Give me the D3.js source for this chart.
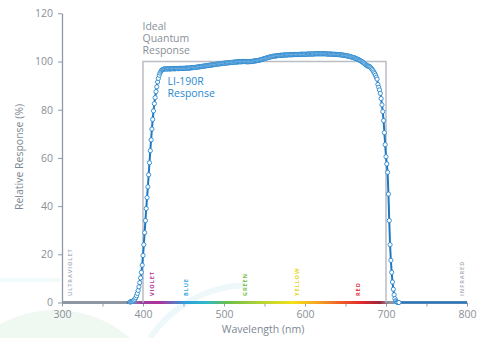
<!DOCTYPE html>
<html><head><meta charset="utf-8">
<script src="https://cdn.jsdelivr.net/npm/d3@7"></script>
<style>body{margin:0;background:#fff}svg{display:block;font-family:"Open Sans",sans-serif}</style>
</head><body><svg id="c" width="481" height="338"></svg>
<script>
// ---- data ----
const wlStart = 380;
const responseValues = [
 0, 0, 0.1, 0.1, 0.2, 0.3, 0.4, 0.5, 0.7, 1.0,
 1.4, 2.0, 2.8, 3.8, 5.0, 6.5, 8.2, 10.2, 12.5, 15.5,
 19.5, 24, 29, 34, 39, 43.5, 48, 53, 58, 63,
 67.5, 72, 76, 79.5, 82.5, 85, 87.5, 89.5, 91.5, 93,
 94.3, 95.2, 95.9, 96.3, 96.6, 96.8, 96.9, 96.9, 97.0, 96.9,
 96.9, 97.0, 97.0, 96.9, 96.9, 97.0, 97.1, 97.0, 97.0, 97.0,
 97.0, 97.1, 97.1, 97.0, 97.1, 97.1, 97.2, 97.1, 97.1, 97.2,
 97.1, 97.2, 97.2, 97.2, 97.3, 97.3, 97.2, 97.3, 97.3, 97.4,
 97.4, 97.4, 97.5, 97.5, 97.5, 97.6, 97.6, 97.7, 97.7, 97.8,
 97.8, 97.9, 97.9, 98.0, 98.0, 98.1, 98.1, 98.2, 98.2, 98.3,
 98.3, 98.4, 98.4, 98.5, 98.5, 98.6, 98.6, 98.7, 98.7, 98.8,
 98.8, 98.9, 98.9, 99.0, 99.0, 99.1, 99.1, 99.1, 99.2, 99.2,
 99.3, 99.3, 99.3, 99.4, 99.4, 99.5, 99.5, 99.5, 99.6, 99.6,
 99.6, 99.7, 99.7, 99.7, 99.8, 99.8, 99.8, 99.8, 99.9, 99.9,
 99.9, 99.9, 99.9, 100.0, 100.0, 100.0, 100.0, 99.9, 99.9, 99.9,
 99.9, 99.9, 100.0, 100.0, 100.0, 100.1, 100.1, 100.2, 100.2, 100.3,
 100.3, 100.4, 100.4, 100.5, 100.6, 100.7, 100.8, 100.9, 101.0, 101.1,
 101.2, 101.3, 101.4, 101.5, 101.6, 101.7, 101.8, 101.9, 102.0, 102.0,
 102.1, 102.2, 102.2, 102.3, 102.3, 102.4, 102.4, 102.5, 102.5, 102.5,
 102.6, 102.6, 102.6, 102.6, 102.7, 102.7, 102.7, 102.7, 102.7, 102.8,
 102.8, 102.8, 102.8, 102.8, 102.8, 102.8, 102.9, 102.9, 102.9, 102.9,
 102.9, 102.9, 102.9, 102.9, 103.0, 103.0, 103.0, 103.0, 103.0, 103.0,
 103.0, 103.0, 103.0, 103.1, 103.1, 103.1, 103.1, 103.1, 103.1, 103.1,
 103.1, 103.1, 103.2, 103.2, 103.2, 103.2, 103.2, 103.2, 103.2, 103.2,
 103.2, 103.2, 103.2, 103.2, 103.2, 103.2, 103.2, 103.1, 103.1, 103.1,
 103.1, 103.1, 103.1, 103.0, 103.0, 103.0, 103.0, 103.0, 102.9, 102.9,
 102.9, 102.9, 102.8, 102.8, 102.8, 102.7, 102.7, 102.6, 102.6, 102.5,
 102.5, 102.4, 102.3, 102.3, 102.2, 102.1, 102.0, 101.9, 101.8, 101.7,
 101.6, 101.5, 101.4, 101.2, 101.1, 100.9, 100.8, 100.6, 100.4, 100.2,
 100.0, 99.8, 99.5, 99.3, 99.0, 98.7, 98.4, 98.2, 98.1, 98.0,
 97.8, 97.5, 97.1, 96.7, 96.2, 95.6, 95.0, 94.3, 93.5, 92.7,
 90.5, 89.3, 88.2, 86.8, 84.6, 82.0, 79.2, 75.5, 70.5, 65.5,
 60.5, 57.5, 54, 45, 34, 24, 17.5, 12.5, 8.5, 5.5,
 3.2, 1.6, 0.7, 0.3, 0.1, 0, 0
];
const tailWavelength = 800, tailValue = 0;
const idealWavelengths = [400, 400, 700, 700];
const idealValues = [0, 100, 100, 0];
const yTicks = [0, 20, 40, 60, 80, 100, 120];
const xTicks = [300, 350, 400, 450, 500, 550, 600, 650, 700, 750, 800];
const xLabels = [300, 400, 500, 600, 700, 800];
const bandNames = ["ULTRAVIOLET", "VIOLET", "BLUE", "GREEN", "YELLOW", "RED", "INFRARED"];
const bandWavelengths = [310, 412, 454, 526, 591, 666, 794];
const bandColors = ["#aeb4bd", "#b2309a", "#2aa7df", "#76bf45", "#e8d41c", "#e0303a", "#aeb4bd"];
const idealLines = ["Ideal", "Quantum", "Response"];
const sensorLines = ["LI-190R", "Response"];

// ---- chart ----
const svg = d3.select("#c");
const x = d3.scaleLinear().domain([300, 800]).range([62, 467]);
const y = d3.scaleLinear().domain([0, 120]).range([302.5, 13.3]);

const data = responseValues.map((v, i) => ({wl: wlStart + i, v}));
const lineData = data.concat([{wl: tailWavelength, v: tailValue}]);

// faint watermark shapes
svg.append("circle").attr("cx", 55).attr("cy", 425).attr("r", 115).attr("fill", "#f0f8f2");
svg.append("path").attr("d", "M150,338 A120,120 0 0 1 245,285").attr("fill", "none").attr("stroke", "#eef8fa").attr("stroke-width", 6);
svg.append("rect").attr("x", 0).attr("y", 278).attr("width", 60).attr("height", 4).attr("fill", "#f0fafa");

// gradient
const defs = svg.append("defs");
const grad = defs.append("linearGradient").attr("id", "spec").attr("gradientUnits", "userSpaceOnUse")
  .attr("x1", x(300)).attr("x2", x(800)).attr("y1", 0).attr("y2", 0);
const stops = [[300,"#8e96a4"],[386,"#8e96a4"],[398,"#9b3f9c"],[420,"#b2319a"],[452,"#2b9fd9"],[478,"#2fb8c8"],[505,"#6cbf4a"],[545,"#b4d235"],[585,"#f4e11c"],[615,"#f5a623"],[645,"#ee5a2a"],[670,"#e02a2e"],[692,"#a0263a"],[704,"#8e96a4"],[800,"#8e96a4"]];
stops.forEach(s => grad.append("stop").attr("offset", (s[0]-300)/500).attr("stop-color", s[1]));

// y axis
const ya = svg.append("g").attr("transform", `translate(${x(300)},0)`)
  .call(d3.axisLeft(y).tickValues(yTicks).tickSize(4).tickSizeOuter(0).tickPadding(5));
ya.select(".domain").attr("stroke", "#8f98a8").attr("stroke-width", 1.3);
ya.selectAll(".tick line").attr("stroke", "#8f98a8");
ya.selectAll(".tick text").attr("fill", "#8a8f98").style("font-size", "10.5px").style("font-family", "Open Sans");

// x axis
const xa = svg.append("g").attr("transform", `translate(0,${y(0)})`)
  .call(d3.axisBottom(x).tickValues(xTicks).tickSize(4).tickSizeOuter(0).tickPadding(4)
    .tickFormat(d => xLabels.includes(d) ? d : ""));
xa.select(".domain").remove();
xa.selectAll(".tick line").attr("stroke", "#8f98a8");
xa.selectAll(".tick text").attr("fill", "#8a8f98").style("font-size", "10.5px").style("font-family", "Open Sans");
svg.append("line").attr("x1", x(300)).attr("x2", x(800)).attr("y1", y(0)).attr("y2", y(0))
  .attr("stroke", "url(#spec)").attr("stroke-width", 3);

// band labels
svg.append("g").selectAll("text").data(bandNames).join("text")
  .attr("transform", (d, i) => `translate(${x(bandWavelengths[i])},296) rotate(-90)`)
  .attr("dominant-baseline", "middle")
  .attr("fill", (d, i) => bandColors[i])
  .style("font-size", "5.6px").style("font-weight", "bold").style("letter-spacing", "0.9px")
  .text(d => d);

// ideal box
svg.append("path")
  .attr("d", d3.line().x((d) => x(d[0])).y(d => y(d[1]))(idealWavelengths.map((w, i) => [w, idealValues[i]])))
  .attr("fill", "none").attr("stroke", "#b9bec6").attr("stroke-width", 1.5);

// response line
svg.append("path").datum(lineData)
  .attr("d", d3.line().x(d => x(d.wl)).y(d => y(d.v)))
  .attr("fill", "none").attr("stroke", "#1f78c1").attr("stroke-width", 2);
svg.append("g").selectAll("circle").data(data.filter(d => d.wl >= 384)).join("circle")
  .attr("cx", d => x(d.wl)).attr("cy", d => y(d.v)).attr("r", 2.1)
  .attr("fill", "#fff").attr("stroke", "#2a88cf").attr("stroke-width", 0.9);

// annotations (one text element per line)
svg.append("g").selectAll("text").data(idealLines).join("text")
  .attr("x", 142.5).attr("y", (d, i) => 30 + i * 12.2)
  .attr("fill", "#8a8f98").style("font-size", "10.5px").text(d => d);
svg.append("g").selectAll("text").data(sensorLines).join("text")
  .attr("x", 167.5).attr("y", (d, i) => 85 + i * 12.3)
  .attr("fill", "#2a8ad0").style("font-size", "10.5px").text(d => d);

// axis titles
svg.append("text").attr("transform", "translate(23,157) rotate(-90)").attr("text-anchor", "middle")
  .attr("fill", "#7d8793").style("font-size", "10.5px").text("Relative Response (%)");
svg.append("text").attr("x", 263).attr("y", 333).attr("text-anchor", "middle")
  .attr("fill", "#7d8793").style("font-size", "10.5px").text("Wavelength (nm)");
</script></body></html>
